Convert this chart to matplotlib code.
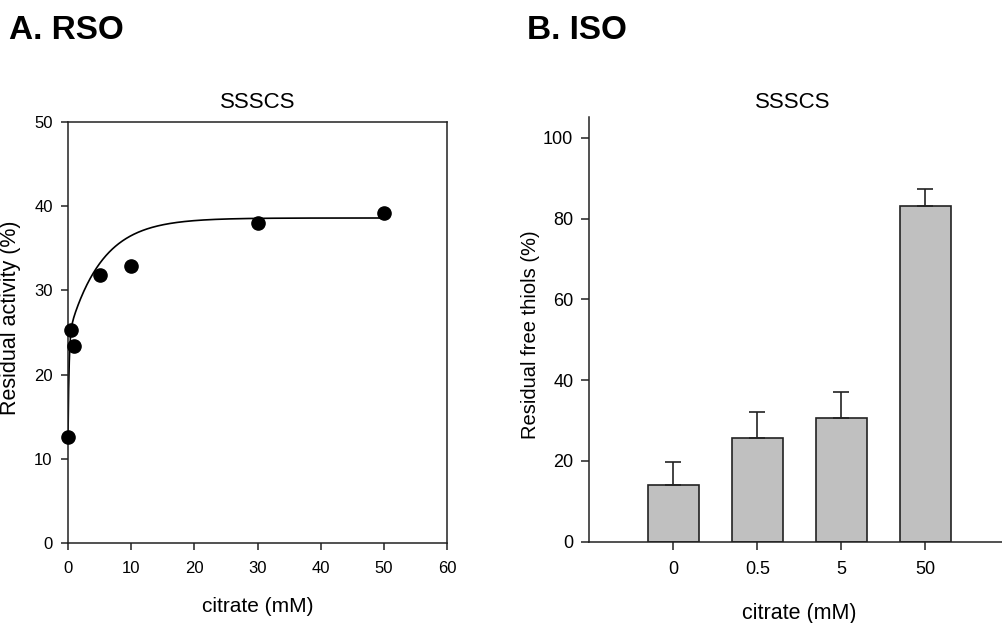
import numpy as np
import matplotlib
matplotlib.use('Agg')
import matplotlib.pyplot as plt

plt.rcParams['font.family'] = ['Liberation Sans', 'DejaVu Sans']

# panel A data (RSO)
citrate_a = [0, 0.5, 1, 5, 10, 30, 50]
activity_a = [12.6, 25.3, 23.4, 31.8, 32.9, 38.0, 39.2]
# fitted curve parameters (double rise to max)
FIT_Y0, FIT_A1, FIT_K1, FIT_A2, FIT_K2 = 12.6, 12.0, 6.0, 14.0, 0.19

# panel B data (ISO)
citrate_b_labels = ['0', '0.5', '5', '50']
thiols_b = [14.0, 25.6, 30.7, 83.1]
thiols_b_err = [5.8, 6.4, 6.3, 4.2]

INK = '#222222'

fig = plt.figure(figsize=(10.02, 6.23), dpi=100)

# ---------- A ----------
axa = fig.add_axes([68 / 1002, 80 / 623, 379 / 1002, 421 / 623])
xfit = np.linspace(0, 50, 500)
yfit = FIT_Y0 + FIT_A1 * (1 - np.exp(-FIT_K1 * xfit)) + FIT_A2 * (1 - np.exp(-FIT_K2 * xfit))
axa.plot(xfit, yfit, color='black', lw=1.2, zorder=2)
axa.plot(citrate_a, activity_a, 'o', color='black', ms=9.5, clip_on=False, zorder=3)
axa.set_xlim(0, 60)
axa.set_ylim(0, 50)
axa.set_xticks(range(0, 61, 10))
axa.set_yticks(range(0, 51, 10))
for s in axa.spines.values():
    s.set_linewidth(1.1)
    s.set_color(INK)
axa.tick_params(direction='out', length=5, width=1.1, color=INK, labelsize=12)
axa.tick_params(axis='x', pad=8)
axa.tick_params(axis='y', pad=6)
axa.set_xlabel('citrate (mM)', fontsize=15)
axa.set_ylabel('Residual activity (%)', fontsize=15.5)
axa.xaxis.label.set_va('center')
axa.yaxis.label.set_va('center')
axa.xaxis.set_label_coords(0.5, (543 - 606) / 421)
axa.yaxis.set_label_coords((11 - 68) / 379, (543 - 318) / 421)
fig.text(258 / 1002, 1 - 108 / 623, 'SSSCS', ha='center', va='baseline', fontsize=16)

# ---------- B ----------
axb = fig.add_axes([589.3 / 1002, (623 - 541.7) / 623, 420 / 1002, 425 / 623])
pos = np.arange(1, len(thiols_b) + 1)
axb.bar(pos, thiols_b, width=0.61, color='#c0c0c0', edgecolor=INK, linewidth=1.2, zorder=2)
axb.errorbar(pos, thiols_b, yerr=[np.zeros(len(thiols_b)), thiols_b_err], fmt='none',
             ecolor=INK, elinewidth=1.2, capsize=5.6, capthick=1.2, zorder=3)
axb.set_xlim(0, 5)
axb.set_ylim(0, 105.2)
axb.set_xticks(pos)
axb.set_xticklabels(citrate_b_labels)
axb.set_yticks(range(0, 101, 20))
axb.spines['top'].set_visible(False)
axb.spines['right'].set_visible(False)
for s in ['left', 'bottom']:
    axb.spines[s].set_linewidth(1.1)
    axb.spines[s].set_color(INK)
axb.tick_params(direction='out', length=5.5, width=1.1, color=INK, labelsize=13)
axb.tick_params(axis='x', pad=8.5)
axb.tick_params(axis='y', pad=6)
axb.set_xlabel('citrate (mM)', fontsize=15.5)
axb.set_ylabel('Residual free thiols (%)', fontsize=14.5)
axb.xaxis.label.set_va('center')
axb.yaxis.label.set_va('center')
axb.xaxis.set_label_coords((799 - 589.3) / 420, (541.7 - 614) / 425)
axb.yaxis.set_label_coords((531 - 589.3) / 420, (541.7 - 335) / 425)
fig.text(793 / 1002, 1 - 108 / 623, 'SSSCS', ha='center', va='baseline', fontsize=16)

# panel headers
fig.text(9 / 1002, 1 - 39 / 623, 'A. RSO', ha='left', va='baseline', fontsize=24, fontweight='bold')
fig.text(527 / 1002, 1 - 39 / 623, 'B. ISO', ha='left', va='baseline', fontsize=24, fontweight='bold')

fig.savefig('out.png', dpi=100)
